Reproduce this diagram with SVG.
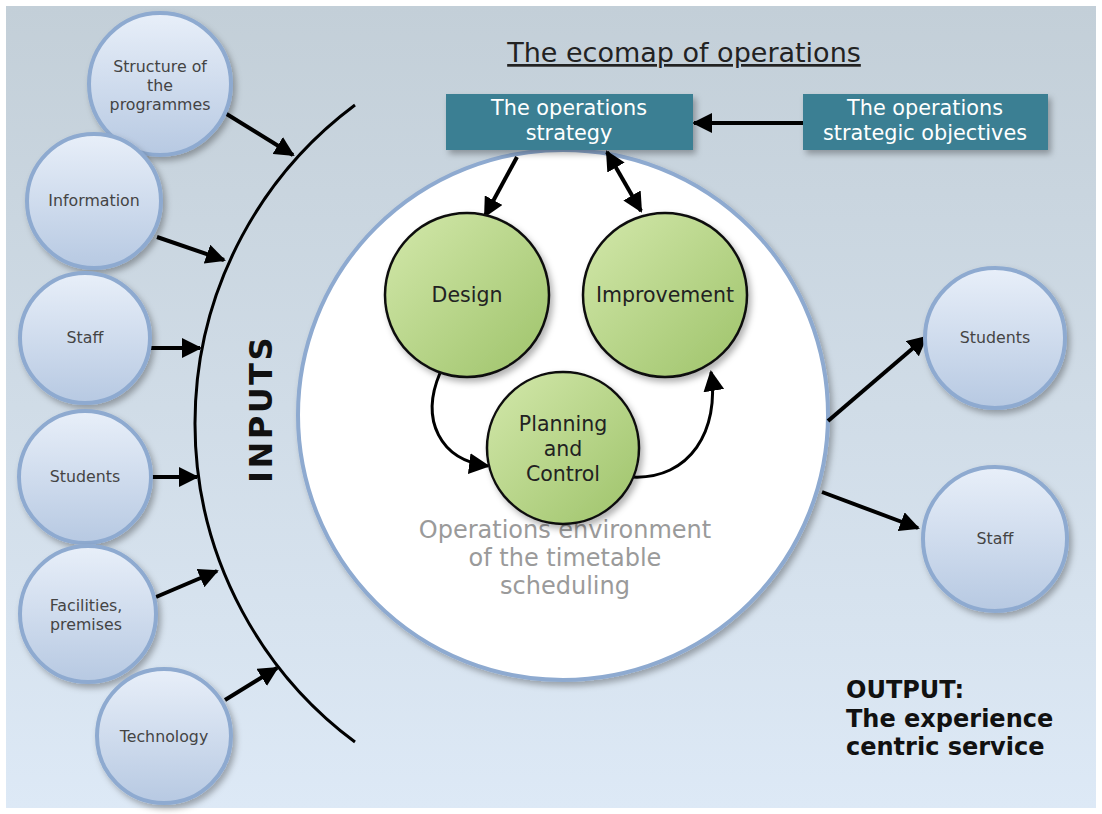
<svg xmlns="http://www.w3.org/2000/svg" width="1102" height="814" viewBox="0 0 1102 814">
<style>
.lbl{font-family:"DejaVu Sans",Verdana,sans-serif;font-size:15.8px;fill:#444;text-anchor:middle}
.glbl{font-family:"DejaVu Sans",Verdana,sans-serif;font-size:20.5px;fill:#222;text-anchor:middle}
.blbl{font-family:"DejaVu Sans",Verdana,sans-serif;font-size:20.8px;fill:#fff;text-anchor:middle}
.bc{fill:url(#bg1);stroke:#8eaad0;stroke-width:4;filter:url(#sh)}
.gc{fill:url(#gg);stroke:#111;stroke-width:2.5;filter:url(#sh)}
.box{fill:#3b7f93;filter:url(#sh)}
.con{stroke:#000;stroke-width:4;fill:none}
.con2{stroke:#000;stroke-width:3;fill:none}
</style>
<defs>
<linearGradient id="bgm" x1="0" y1="0" x2="0" y2="1"><stop offset="0" stop-color="#c3cfd8"/><stop offset="1" stop-color="#dde9f6"/></linearGradient>
<linearGradient id="bg1" x1="0" y1="0" x2="0" y2="1"><stop offset="0" stop-color="#e8eff9"/><stop offset="1" stop-color="#b7c9e2"/></linearGradient>
<linearGradient id="gg" x1="0" y1="0" x2="1" y2="1"><stop offset="0" stop-color="#d3e8ab"/><stop offset="1" stop-color="#9ec36a"/></linearGradient>
<filter id="sh" x="-20%" y="-20%" width="150%" height="150%"><feDropShadow dx="3" dy="4" stdDeviation="3" flood-color="#000" flood-opacity="0.3"/></filter>
<marker id="ah" viewBox="0 0 10 10" refX="9" refY="5" markerWidth="5" markerHeight="5" orient="auto-start-reverse" markerUnits="strokeWidth"><path d="M0,0 L10,5 L0,10 z" fill="#000"/></marker>
<marker id="ah2" viewBox="0 0 10 10" refX="9" refY="5" markerWidth="7" markerHeight="7" orient="auto" markerUnits="strokeWidth"><path d="M0,0 L10,5 L0,10 z" fill="#000"/></marker>
</defs>
<rect x="0" y="0" width="1102" height="814" fill="#fff"/>
<rect x="6" y="6" width="1090" height="802" fill="url(#bgm)"/>

<text x="684" y="62" font-family="'DejaVu Sans',Verdana,sans-serif" font-size="27" fill="#222" text-anchor="middle" text-decoration="underline">The ecomap of operations</text>

<g id="environment">
<circle cx="563" cy="415" r="265" fill="#fff" stroke="#8eaad0" stroke-width="4" filter="url(#sh)"/>
<text font-family="'DejaVu Sans',Verdana,sans-serif" font-size="24" fill="#9a9a9a" text-anchor="middle"><tspan x="565" y="538">Operations environment</tspan><tspan x="565" y="566">of the timetable</tspan><tspan x="565" y="594">scheduling</tspan></text>
</g>

<g id="inputs-arc">
<path d="M355,105 A397,397 0 0 0 355,742" fill="none" stroke="#000" stroke-width="3"/>
<text transform="translate(272,409) rotate(-90)" font-family="'DejaVu Sans',Verdana,sans-serif" font-size="32" font-weight="bold" fill="#111" text-anchor="middle" letter-spacing="2.5">INPUTS</text>
</g>

<g id="connectors">
<line class="con" x1="225" y1="113" x2="293" y2="155" marker-end="url(#ah)"/>
<line class="con" x1="157" y1="237" x2="224" y2="260" marker-end="url(#ah)"/>
<line class="con" x1="148" y1="348" x2="200" y2="348" marker-end="url(#ah)"/>
<line class="con" x1="148" y1="477" x2="197" y2="477" marker-end="url(#ah)"/>
<line class="con" x1="156" y1="597" x2="217" y2="571" marker-end="url(#ah)"/>
<line class="con" x1="225" y1="700" x2="277" y2="668" marker-end="url(#ah)"/>
<line class="con" x1="828" y1="421" x2="926" y2="337" marker-end="url(#ah)"/>
<line class="con" x1="822" y1="492" x2="918" y2="528" marker-end="url(#ah)"/>
<line class="con" x1="803" y1="123" x2="694" y2="123" marker-end="url(#ah)"/>
<line class="con" x1="517" y1="157" x2="485" y2="216" marker-end="url(#ah)"/>
<line class="con" x1="607" y1="152" x2="641" y2="211" marker-start="url(#ah)" marker-end="url(#ah)"/>
<path class="con2" d="M440,373 C420,420 440,460 488,466" marker-end="url(#ah2)"/>
<path class="con2" d="M632,477 C690,480 720,430 711,372" marker-end="url(#ah2)"/>
</g>

<g id="strategy"><rect class="box" x="446" y="94" width="247" height="56"/><text class="blbl"><tspan x="569" y="115">The operations</tspan><tspan x="569" y="140">strategy</tspan></text></g>
<g id="objectives"><rect class="box" x="803" y="94" width="245" height="56"/><text class="blbl"><tspan x="925" y="115">The operations</tspan><tspan x="925" y="140">strategic objectives</tspan></text></g>

<g id="design"><circle class="gc" cx="467" cy="295" r="82"/><text class="glbl" x="467" y="302">Design</text></g>
<g id="improvement"><circle class="gc" cx="665" cy="295" r="82"/><text class="glbl" x="665" y="302">Improvement</text></g>
<g id="planning"><circle class="gc" cx="563" cy="448" r="76"/><text class="glbl"><tspan x="563" y="431">Planning</tspan><tspan x="563" y="456">and</tspan><tspan x="563" y="481">Control</tspan></text></g>

<g id="in-structure"><circle class="bc" cx="160" cy="84" r="71"/><text class="lbl"><tspan x="160" y="72">Structure of</tspan><tspan x="160" y="91">the</tspan><tspan x="160" y="110">programmes</tspan></text></g>
<g id="in-information"><circle class="bc" cx="94" cy="201" r="67"/><text class="lbl" x="94" y="206">Information</text></g>
<g id="in-staff"><circle class="bc" cx="85" cy="338" r="65"/><text class="lbl" x="85" y="343">Staff</text></g>
<g id="in-students"><circle class="bc" cx="85" cy="477" r="66"/><text class="lbl" x="85" y="482">Students</text></g>
<g id="in-facilities"><circle class="bc" cx="88" cy="614" r="68"/><text class="lbl"><tspan x="86" y="611">Facilities,</tspan><tspan x="86" y="630">premises</tspan></text></g>
<g id="in-technology"><circle class="bc" cx="164" cy="736" r="67"/><text class="lbl" x="164" y="742">Technology</text></g>

<g id="out-students"><circle class="bc" cx="995" cy="338" r="70"/><text class="lbl" x="995" y="343">Students</text></g>
<g id="out-staff"><circle class="bc" cx="995" cy="539" r="72"/><text class="lbl" x="995" y="544">Staff</text></g>

<text font-family="'DejaVu Sans',Verdana,sans-serif" font-size="24" font-weight="bold" fill="#111"><tspan x="846" y="698">OUTPUT:</tspan><tspan x="846" y="727">The experience</tspan><tspan x="846" y="755">centric service</tspan></text>
</svg>
